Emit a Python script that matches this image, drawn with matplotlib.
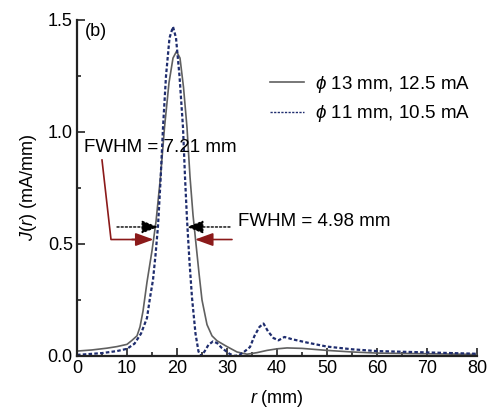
import matplotlib
matplotlib.use("Agg")
import matplotlib.pyplot as plt

plt.rcParams['font.family'] = ['Liberation Sans', 'DejaVu Sans']
plt.rcParams['mathtext.fontset'] = 'custom'
plt.rcParams['mathtext.it'] = 'Liberation Sans:italic'
plt.rcParams['mathtext.rm'] = 'Liberation Sans'

# phi 13 mm, 12.5 mA (solid)
r_solid = [0, 3, 6, 8, 10, 11, 12, 12.6, 13.2, 14, 15, 15.8, 16.7, 17.5, 18.4, 19.2, 19.9,
           20.6, 21.3, 22, 22.6, 23.2, 23.8, 24.4, 25, 26, 27, 28, 30, 32, 34, 36, 38, 40,
           42, 45, 50, 55, 60, 70, 80]
j_solid = [0.022, 0.027, 0.035, 0.042, 0.052, 0.07, 0.09, 0.13, 0.2, 0.33, 0.47, 0.6, 0.8,
           1.02, 1.22, 1.33, 1.36, 1.33, 1.2, 1.02, 0.8, 0.63, 0.5, 0.37, 0.25, 0.14, 0.09,
           0.068, 0.042, 0.018, 0.008, 0.015, 0.025, 0.032, 0.036, 0.034, 0.025, 0.018,
           0.013, 0.01, 0.007]

# phi 11 mm, 10.5 mA (dotted)
r_dash = [0, 2, 5, 8, 10, 11.5, 12.8, 14, 14.6, 15.2, 15.7, 16.2, 16.7, 17.2, 17.8, 18.5,
          19.2, 19.8, 20.5, 21.2, 21.6, 22, 22.5, 23, 23.7, 24.3, 24.8, 25.5, 26.3, 27.2,
          28, 29, 30.5, 31.5, 32.5, 33.5, 34.6, 35.5, 36.5, 37.3, 38.2, 39.3, 40.3, 41.5,
          43, 46, 50, 55, 60, 70, 80]
j_dash = [0.005, 0.008, 0.013, 0.022, 0.032, 0.055, 0.1, 0.17, 0.26, 0.34, 0.45, 0.58,
          0.78, 1.02, 1.25, 1.42, 1.47, 1.42, 1.25, 1.02, 0.8, 0.61, 0.42, 0.26, 0.1, 0.02,
          0.0, 0.02, 0.05, 0.065, 0.058, 0.035, 0.01, 0.0, 0.005, 0.02, 0.04, 0.09, 0.13,
          0.145, 0.11, 0.08, 0.07, 0.085, 0.075, 0.06, 0.042, 0.03, 0.022, 0.016, 0.01]

labels = [r'$\phi$ 13 mm, 12.5 mA', r'$\phi$ 11 mm, 10.5 mA']
x_ticks = [0, 10, 20, 30, 40, 50, 60, 70, 80]
y_ticks = [0.0, 0.5, 1.0, 1.5]

fig = plt.figure(figsize=(4.94, 4.08), dpi=100)
ax = fig.add_axes([77/494, 1-356/408, 400/494, 336/408])

ax.plot(r_solid, j_solid, color='#606060', lw=1.2, label=labels[0])
ax.plot(r_dash, j_dash, color='#1f2d6e', lw=1.6, ls=(0, (1.6, 1.0)), label=labels[1])

ax.set_xlim(0, 80)
ax.set_ylim(0, 1.5)
ax.set_xticks(x_ticks)
ax.set_yticks(y_ticks)
ax.set_yticklabels([f'{v:.1f}' for v in y_ticks])
ax.set_xticks([5, 15, 25, 35, 45, 55, 65, 75], minor=True)
ax.set_yticks([0.25, 0.75, 1.25], minor=True)
ax.tick_params(which='both', direction='in', labelsize=13, color='#222222', width=1.2)
ax.tick_params(which='major', length=6, pad=3)
ax.tick_params(which='minor', length=3)
for s in ['top', 'right']:
    ax.spines[s].set_visible(False)
for s in ['left', 'bottom']:
    ax.spines[s].set_linewidth(1.6)
    ax.spines[s].set_color('#222222')

ax.set_xlabel(r'$r$ (mm)', fontsize=13, labelpad=8)
ax.set_ylabel(r'$J$($r$) (mA/mm)', fontsize=13, labelpad=6)

ax.text(1.6, 1.45, '(b)', fontsize=13, va='center', ha='left')

leg = ax.legend(loc='upper left', bbox_to_anchor=(270/494, 1-74/408),
                bbox_transform=fig.transFigure, frameon=False, fontsize=13.5,
                handlelength=1.8, handletextpad=0.6, labelspacing=0.45, borderpad=0,
                borderaxespad=0)
leg.get_lines()[1].set_linewidth(1.0)

# FWHM annotations
ax.text(1.4, 0.93, 'FWHM = 7.21 mm', fontsize=13.5, va='center', ha='left')
ax.text(32.2, 0.60, 'FWHM = 4.98 mm', fontsize=13.5, va='center', ha='left')

black_kw = dict(arrowstyle='-|>,head_length=1.0,head_width=0.4', color='black', lw=1.0,
                ls=(0, (1.5, 1.5)), shrinkA=0, shrinkB=0)
ax.annotate('', xy=(16.2, 0.576), xytext=(8.0, 0.576), arrowprops=black_kw)
ax.annotate('', xy=(22.0, 0.576), xytext=(30.6, 0.576), arrowprops=black_kw)

red = '#8b1a1a'
ax.plot([5.0, 6.8, 12.0], [0.875, 0.52, 0.52], color=red, lw=1.2)
red_kw = dict(arrowstyle='-|>,head_length=1.1,head_width=0.4', color=red, lw=1.2,
              shrinkA=0, shrinkB=0)
ax.annotate('', xy=(15.3, 0.52), xytext=(11.0, 0.52), arrowprops=red_kw)
ax.annotate('', xy=(23.6, 0.52), xytext=(31.0, 0.52), arrowprops=red_kw)

fig.savefig('out.png', dpi=100)
